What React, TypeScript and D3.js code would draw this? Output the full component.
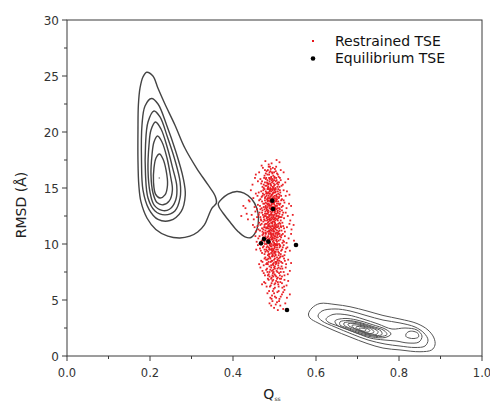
import React from "react";
import * as d3 from "d3";

const W = 490;
const H = 403;

const xTicks = [0, 0.2, 0.4, 0.6, 0.8, 1.0];
const xMinor = [0.1, 0.3, 0.5, 0.7, 0.9];
const yTicks = [0, 5, 10, 15, 20, 25, 30];
const yMinor = [2.5, 7.5, 12.5, 17.5, 22.5, 27.5];

const legendLabels = ["Restrained TSE", "Equilibrium TSE"];

// Equilibrium TSE (black points) [Q, RMSD]
const equilibrium: [number, number][] = [
  [0.4947, 13.87], [0.4964, 13.13], [0.4747, 10.45], [0.4675, 10.06],
  [0.4851, 10.21], [0.5518, 9.91], [0.5301, 4.11],
];

// Restrained TSE (red cloud) [Q, RMSD]
const restrained: [number, number][] = [
  [0.478,17.4],[0.493,17.2],[0.505,17.5],[0.486,17.1],[0.512,17.3],[0.469,17.0],
  [0.472,16.8],[0.481,16.5],[0.489,16.9],[0.495,16.3],[0.501,16.7],[0.508,16.2],[0.476,16.1],[0.484,16.6],[0.492,16.0],[0.499,16.4],[0.515,16.6],[0.463,16.4],[0.487,16.2],[0.504,16.9],[0.479,16.3],[0.496,16.8],[0.510,16.0],[0.455,16.2],[0.522,16.4],[0.490,16.5],
  [0.466,15.8],[0.474,15.3],[0.480,15.9],[0.485,15.1],[0.488,15.6],[0.492,15.2],[0.495,15.8],[0.498,15.4],[0.502,15.0],[0.505,15.7],[0.509,15.3],[0.513,15.9],[0.477,15.5],[0.483,15.7],[0.490,15.0],[0.494,15.5],[0.500,15.9],[0.486,15.4],[0.471,15.1],[0.517,15.2],[0.460,15.6],[0.526,15.5],[0.496,15.1],[0.481,15.2],[0.503,15.6],[0.489,15.8],[0.507,15.1],[0.475,15.9],[0.491,15.3],[0.499,15.7],[0.447,15.3],[0.533,15.8],[0.484,15.0],[0.511,15.5],[0.468,15.4],
  [0.462,14.6],[0.469,14.2],[0.473,14.8],[0.477,14.1],[0.480,14.5],[0.483,14.9],[0.486,14.3],[0.488,14.7],[0.491,14.0],[0.493,14.4],[0.495,14.8],[0.497,14.2],[0.499,14.6],[0.501,14.1],[0.503,14.9],[0.505,14.4],[0.508,14.7],[0.511,14.2],[0.514,14.6],[0.518,14.0],[0.522,14.8],[0.475,14.4],[0.482,14.0],[0.489,14.5],[0.494,14.9],[0.498,14.0],[0.504,14.3],[0.509,14.9],[0.485,14.6],[0.492,14.3],[0.500,14.8],[0.479,14.7],[0.466,14.0],[0.527,14.3],[0.455,14.5],[0.487,14.1],[0.496,14.5],[0.506,14.0],[0.472,14.5],[0.512,14.4],[0.490,14.9],[0.530,14.7],[0.449,14.1],[0.481,14.3],[0.502,14.6],
  [0.460,13.5],[0.466,13.1],[0.470,13.8],[0.474,13.3],[0.477,13.9],[0.480,13.2],[0.482,13.6],[0.485,13.0],[0.487,13.4],[0.489,13.8],[0.491,13.1],[0.493,13.5],[0.495,13.9],[0.497,13.3],[0.499,13.7],[0.501,13.0],[0.503,13.4],[0.505,13.8],[0.507,13.2],[0.510,13.6],[0.513,13.1],[0.516,13.9],[0.520,13.4],[0.524,13.7],[0.476,13.6],[0.481,13.0],[0.484,13.8],[0.488,13.2],[0.492,13.7],[0.496,13.0],[0.500,13.5],[0.504,13.9],[0.508,13.0],[0.512,13.5],[0.486,13.6],[0.494,13.3],[0.498,13.9],[0.471,13.0],[0.463,13.9],[0.529,13.2],[0.452,13.3],[0.535,13.6],[0.479,13.4],[0.490,13.9],[0.502,13.2],[0.483,13.3],[0.506,13.6],[0.440,13.8],[0.430,13.2],[0.518,13.0],
  [0.458,12.4],[0.464,12.8],[0.468,12.1],[0.472,12.6],[0.475,12.2],[0.478,12.9],[0.481,12.3],[0.483,12.7],[0.486,12.0],[0.488,12.5],[0.490,12.9],[0.492,12.2],[0.494,12.6],[0.496,12.0],[0.498,12.4],[0.500,12.8],[0.502,12.1],[0.504,12.5],[0.507,12.9],[0.509,12.3],[0.512,12.7],[0.515,12.1],[0.519,12.6],[0.523,12.3],[0.527,12.8],[0.473,12.0],[0.479,12.5],[0.484,12.9],[0.487,12.2],[0.491,12.6],[0.495,12.3],[0.499,12.0],[0.503,12.7],[0.506,12.2],[0.510,12.5],[0.485,12.4],[0.493,12.8],[0.497,12.5],[0.501,12.3],[0.477,12.7],[0.466,12.4],[0.532,12.5],[0.454,12.9],[0.538,12.1],[0.489,12.1],[0.482,12.1],[0.508,12.8],[0.445,12.6],[0.436,12.2],[0.514,12.4],
  [0.459,11.6],[0.465,11.2],[0.469,11.8],[0.473,11.3],[0.476,11.7],[0.479,11.0],[0.482,11.5],[0.484,11.9],[0.487,11.2],[0.489,11.6],[0.491,11.0],[0.493,11.4],[0.495,11.8],[0.497,11.1],[0.499,11.5],[0.501,11.9],[0.503,11.3],[0.505,11.7],[0.508,11.0],[0.511,11.4],[0.514,11.8],[0.517,11.2],[0.521,11.6],[0.525,11.1],[0.530,11.5],[0.474,11.0],[0.480,11.4],[0.485,11.7],[0.488,11.1],[0.492,11.9],[0.496,11.3],[0.500,11.7],[0.504,11.0],[0.507,11.5],[0.512,11.9],[0.486,11.4],[0.494,11.6],[0.498,11.2],[0.502,11.6],[0.478,11.8],[0.470,11.4],[0.536,11.8],[0.455,11.1],[0.541,11.3],[0.490,11.3],[0.483,11.1],[0.509,11.8],[0.448,11.7],[0.516,11.5],[0.463,11.9],
  [0.461,10.5],[0.467,10.1],[0.471,10.8],[0.475,10.3],[0.478,10.7],[0.481,10.0],[0.484,10.4],[0.486,10.9],[0.489,10.2],[0.491,10.6],[0.493,10.0],[0.495,10.4],[0.497,10.8],[0.499,10.1],[0.501,10.5],[0.503,10.9],[0.506,10.2],[0.508,10.6],[0.511,10.0],[0.514,10.4],[0.517,10.8],[0.521,10.3],[0.525,10.7],[0.529,10.1],[0.477,10.0],[0.483,10.6],[0.487,10.5],[0.492,10.8],[0.496,10.2],[0.500,10.7],[0.504,10.3],[0.509,10.9],[0.488,10.0],[0.494,10.5],[0.498,10.9],[0.505,10.6],[0.480,10.5],[0.473,10.9],[0.534,10.5],[0.457,10.2],[0.540,10.9],[0.513,10.7],[0.490,10.9],[0.502,10.0],[0.519,10.1],
  [0.465,9.6],[0.470,9.2],[0.474,9.8],[0.478,9.3],[0.481,9.7],[0.484,9.0],[0.487,9.5],[0.489,9.9],[0.492,9.2],[0.494,9.6],[0.496,9.0],[0.498,9.4],[0.500,9.8],[0.502,9.1],[0.504,9.5],[0.507,9.9],[0.509,9.3],[0.512,9.7],[0.515,9.1],[0.518,9.5],[0.522,9.9],[0.526,9.3],[0.531,9.7],[0.482,9.4],[0.486,9.1],[0.491,9.8],[0.495,9.3],[0.499,9.6],[0.503,9.0],[0.506,9.7],[0.510,9.0],[0.488,9.6],[0.497,9.9],[0.476,9.5],[0.537,9.4],[0.460,9.9],[0.514,9.8],[0.501,9.3],[0.493,9.5],[0.524,9.0],
  [0.468,8.5],[0.474,8.1],[0.478,8.8],[0.482,8.3],[0.485,8.7],[0.488,8.0],[0.491,8.4],[0.494,8.9],[0.496,8.2],[0.499,8.6],[0.501,8.0],[0.504,8.4],[0.506,8.8],[0.509,8.1],[0.512,8.5],[0.515,8.9],[0.519,8.3],[0.523,8.7],[0.528,8.2],[0.484,8.2],[0.490,8.7],[0.495,8.5],[0.500,8.9],[0.505,8.3],[0.510,8.7],[0.480,8.6],[0.533,8.6],[0.463,8.2],[0.517,8.0],[0.497,8.1],[0.487,8.9],[0.508,8.5],
  [0.471,7.6],[0.477,7.2],[0.482,7.8],[0.486,7.3],[0.490,7.7],[0.493,7.0],[0.496,7.4],[0.499,7.9],[0.502,7.2],[0.505,7.6],[0.508,7.0],[0.511,7.4],[0.514,7.8],[0.518,7.1],[0.522,7.5],[0.527,7.9],[0.488,7.1],[0.494,7.6],[0.500,7.3],[0.507,7.8],[0.513,7.2],[0.483,7.5],[0.532,7.3],[0.466,7.9],[0.497,7.7],
  [0.475,6.6],[0.481,6.2],[0.486,6.8],[0.491,6.3],[0.495,6.7],[0.498,6.0],[0.502,6.5],[0.506,6.9],[0.510,6.2],[0.514,6.6],[0.519,6.1],[0.524,6.8],[0.492,6.9],[0.500,6.4],[0.508,6.6],[0.529,6.3],[0.470,6.4],[0.516,6.9],
  [0.483,5.6],[0.490,5.2],[0.496,5.8],[0.501,5.3],[0.507,5.7],[0.512,5.1],[0.518,5.5],[0.524,5.9],[0.494,5.4],[0.530,5.2],
  [0.488,4.7],[0.499,4.3],[0.506,4.8],[0.514,4.5],[0.521,4.2],[0.495,4.9],[0.508,4.1],
  [0.483,16.2],[0.491,16.7],[0.497,16.1],[0.503,16.5],[0.486,16.9],[0.494,16.4],[0.477,16.6],[0.506,16.3],[0.500,16.0],[0.488,16.4],
  [0.470,15.6],[0.478,15.2],[0.482,15.5],[0.487,15.9],[0.490,15.4],[0.493,15.7],[0.497,15.0],[0.501,15.3],[0.504,15.9],[0.508,15.5],[0.512,15.1],[0.479,15.8],[0.485,15.3],[0.492,15.9],[0.496,15.6],[0.499,15.2],[0.506,15.4],[0.515,15.7],[0.474,15.0],[0.483,15.4],[0.520,15.3],[0.453,15.9],
  [0.468,14.7],[0.471,14.3],[0.476,14.9],[0.478,14.2],[0.481,14.6],[0.484,14.1],[0.487,14.5],[0.490,14.2],[0.492,14.7],[0.495,14.1],[0.497,14.6],[0.500,14.3],[0.503,14.7],[0.506,14.2],[0.509,14.5],[0.513,14.8],[0.516,14.3],[0.483,14.5],[0.489,14.8],[0.494,14.4],[0.499,14.9],[0.504,14.0],[0.486,14.9],[0.492,14.0],[0.510,14.1],[0.459,14.3],[0.536,14.4],[0.443,14.8],
  [0.465,13.4],[0.469,13.2],[0.473,13.6],[0.476,13.1],[0.479,13.7],[0.482,13.1],[0.484,13.5],[0.486,13.9],[0.488,13.5],[0.490,13.2],[0.492,13.9],[0.494,13.6],[0.496,13.2],[0.498,13.6],[0.500,13.1],[0.502,13.8],[0.504,13.1],[0.506,13.4],[0.509,13.8],[0.511,13.2],[0.514,13.6],[0.517,13.3],[0.522,13.9],[0.478,13.3],[0.483,13.9],[0.491,13.4],[0.497,13.8],[0.501,13.3],[0.458,13.1],[0.540,13.4],
  [0.462,12.6],[0.467,12.2],[0.470,12.8],[0.474,12.4],[0.477,12.1],[0.480,12.7],[0.482,12.4],[0.485,12.8],[0.487,12.6],[0.489,12.3],[0.491,12.1],[0.493,12.4],[0.495,12.9],[0.497,12.2],[0.499,12.6],[0.501,12.9],[0.503,12.3],[0.505,12.7],[0.508,12.1],[0.511,12.4],[0.513,12.9],[0.517,12.4],[0.521,12.8],[0.476,12.5],[0.484,12.2],[0.492,12.7],[0.500,12.2],[0.506,12.5],[0.450,12.2],[0.544,12.6],
  [0.461,11.3],[0.466,11.7],[0.471,11.1],[0.475,11.5],[0.478,11.2],[0.481,11.8],[0.483,11.4],[0.486,11.1],[0.488,11.8],[0.490,11.5],[0.492,11.2],[0.494,11.9],[0.496,11.6],[0.498,11.4],[0.500,11.1],[0.502,11.8],[0.504,11.5],[0.506,11.2],[0.509,11.6],[0.512,11.2],[0.515,11.6],[0.519,11.9],[0.523,11.4],[0.477,11.5],[0.485,11.6],[0.493,11.2],[0.501,11.4],[0.510,11.1],[0.452,11.5],[0.546,11.7],
  [0.464,10.7],[0.469,10.3],[0.473,10.6],[0.476,10.2],[0.479,10.9],[0.482,10.3],[0.485,10.7],[0.488,10.4],[0.490,10.1],[0.492,10.4],[0.494,10.9],[0.496,10.6],[0.498,10.3],[0.500,10.0],[0.502,10.7],[0.505,10.4],[0.507,10.8],[0.510,10.3],[0.512,10.9],[0.516,10.6],[0.520,10.9],[0.523,10.2],[0.486,10.2],[0.493,10.7],[0.499,10.5],[0.506,10.0],[0.454,10.7],[0.547,10.3],
  [0.467,9.4],[0.472,9.7],[0.476,9.1],[0.480,9.5],[0.483,9.8],[0.485,9.3],[0.488,9.1],[0.490,9.5],[0.493,9.8],[0.495,9.1],[0.497,9.5],[0.499,9.2],[0.501,9.7],[0.503,9.3],[0.505,9.9],[0.508,9.5],[0.511,9.2],[0.513,9.9],[0.516,9.4],[0.520,9.7],[0.528,9.6],[0.486,9.7],[0.494,9.4],[0.502,9.9],[0.456,9.5],
  [0.471,8.4],[0.476,8.7],[0.480,8.2],[0.483,8.6],[0.486,8.4],[0.489,8.8],[0.492,8.1],[0.495,8.9],[0.498,8.3],[0.501,8.7],[0.503,8.2],[0.507,8.6],[0.510,8.3],[0.513,8.8],[0.516,8.4],[0.520,8.9],[0.525,8.5],[0.493,8.5],[0.502,8.4],[0.540,8.3],
  [0.474,7.4],[0.480,7.7],[0.484,7.2],[0.488,7.5],[0.492,7.9],[0.495,7.2],[0.498,7.5],[0.501,7.8],[0.504,7.1],[0.507,7.5],[0.510,7.9],[0.515,7.5],[0.519,7.8],[0.524,7.2],[0.497,7.1],[0.537,7.6],
  [0.478,6.5],[0.484,6.9],[0.489,6.2],[0.493,6.5],[0.497,6.8],[0.501,6.1],[0.504,6.7],[0.509,6.4],[0.513,6.9],[0.518,6.5],[0.523,6.2],[0.533,6.7],
  [0.487,5.8],[0.493,5.1],[0.499,5.6],[0.504,5.2],[0.510,5.8],[0.515,5.3],[0.521,5.7],[0.537,5.5],
  [0.492,4.5],[0.503,4.6],[0.511,4.9],[0.526,4.7],
  [0.425,13.4],[0.433,12.7],[0.438,13.9],[0.420,12.5],
];

// Contour lines [Q, RMSD]
const leftOuter: [number, number][] = [
  [0.192,25.33],[0.207,25.0],[0.219,23.93],[0.236,22.5],[0.260,20.63],[0.284,18.57],[0.3125,16.76],[0.340,15.27],[0.357,14.29],[0.360,13.66],
  [0.349,13.19],[0.340,12.44],[0.331,11.7],[0.315,11.07],[0.296,10.7],[0.272,10.54],[0.243,10.7],[0.214,11.3],[0.193,12.3],[0.178,13.8],[0.173,15.3],
  [0.171,17.5],[0.171,20.18],[0.172,22.41],[0.176,23.93],[0.183,24.91],
];
const leftC2: [number, number][] = [
  [0.2036,22.99],[0.2193,22.5],[0.2400,20.63],[0.2625,18.21],[0.2800,15.89],[0.2850,14.38],[0.2750,12.9],[0.2482,12.1],[0.2193,12.2],[0.1976,13.1],[0.1831,14.82],[0.1795,17.5],[0.1807,20.63],[0.1880,22.32],
];
const leftC3: [number, number][] = [
  [0.2096,21.88],[0.2241,21.34],[0.2420,19.55],[0.2600,17.5],[0.2725,15.54],[0.2725,14.11],[0.2600,12.95],[0.2361,12.6],[0.2120,12.95],[0.1952,14.11],[0.1892,16.16],[0.1892,18.84],[0.1952,20.89],
];
const leftC4: [number, number][] = [
  [0.2133,20.89],[0.2265,20.27],[0.2420,18.57],[0.2545,16.79],[0.2645,15.18],[0.2620,13.93],[0.2470,13.1],[0.2289,13.0],[0.2096,13.5],[0.2000,14.64],[0.1952,16.61],[0.1976,18.84],[0.2024,20.18],
];
const leftC5: [number, number][] = [
  [0.2181,19.64],[0.2289,19.11],[0.2410,17.68],[0.2490,16.16],[0.2540,14.82],[0.2465,13.85],[0.2313,13.5],[0.2169,13.7],[0.2072,14.55],[0.2024,16.16],[0.2048,17.95],[0.2096,19.11],
];
const leftC6: [number, number][] = [
  [0.2229,18.04],[0.2313,17.59],[0.2386,16.61],[0.2422,15.27],[0.2361,14.38],[0.2241,14.11],[0.2133,14.46],[0.2084,15.54],[0.2096,16.79],[0.2145,17.68],
];
const leftPeak: [number, number] = [0.2224, 15.89];

const middleBlob: [number, number][] = [
  [0.3646,13.63],[0.3728,14.02],[0.3880,14.46],[0.4089,14.69],[0.4265,14.55],[0.4451,14.02],[0.4571,13.21],[0.4614,12.32],[0.4578,11.34],[0.4434,10.58],[0.4289,10.63],[0.4120,11.12],[0.3928,11.96],[0.3759,12.77],[0.3663,13.30],
];

const rightR1: [number, number][] = [
  [0.5819,3.75],[0.5904,4.29],[0.6096,4.69],[0.6458,4.60],[0.6819,4.40],[0.7229,4.02],[0.7614,3.62],[0.8024,3.30],[0.8434,2.90],[0.8699,2.32],[0.8843,1.61],[0.8867,0.98],[0.8788,0.54],[0.8506,0.38],[0.8024,0.54],[0.7614,0.71],[0.7229,1.12],[0.6819,1.70],[0.6410,2.32],[0.6048,2.95],[0.5855,3.39],
];
const rightR2: [number, number][] = [
  [0.6048,3.57],[0.6145,4.02],[0.6458,4.20],[0.6819,4.02],[0.7205,3.62],[0.7614,3.21],[0.8024,2.95],[0.8386,2.59],[0.8602,2.05],[0.8699,1.43],[0.8627,0.89],[0.8386,0.76],[0.8024,0.89],[0.7663,1.07],[0.7253,1.43],[0.6867,1.96],[0.6458,2.59],[0.6145,3.13],
];
const rightR3: [number, number][] = [
  [0.6241,3.30],[0.6410,3.71],[0.6771,3.66],[0.7133,3.30],[0.7494,2.86],[0.7831,2.41],[0.8145,2.50],[0.8434,2.32],[0.8554,1.79],[0.8482,1.25],[0.8217,1.16],[0.7928,1.34],[0.7639,1.43],[0.7301,1.61],[0.6916,2.14],[0.6530,2.68],[0.6289,3.04],
];
const rightSecond: [number, number][] = [
  [0.8169,1.96],[0.8241,2.19],[0.8361,2.19],[0.8458,2.01],[0.8470,1.70],[0.8361,1.56],[0.8241,1.61],[0.8169,1.74],
];
const rightM1: [number, number][] = [
  [0.6458,3.13],[0.6675,3.35],[0.6988,3.21],[0.7349,2.81],[0.7687,2.37],[0.7807,1.96],[0.7663,1.65],[0.7349,1.70],[0.7012,2.01],[0.6699,2.46],[0.6506,2.77],
];
const rightM2: [number, number][] = [
  [0.6578,3.04],[0.6771,3.17],[0.7060,2.99],[0.7373,2.63],[0.7639,2.28],[0.7711,1.92],[0.7566,1.74],[0.7301,1.83],[0.6988,2.14],[0.6723,2.54],[0.6578,2.77],
];
const rightM3: [number, number][] = [
  [0.6675,2.95],[0.6867,3.04],[0.7108,2.86],[0.7373,2.54],[0.7566,2.23],[0.7590,1.92],[0.7446,1.83],[0.7229,1.96],[0.6964,2.28],[0.6747,2.59],[0.6675,2.77],
];
const rightM4: [number, number][] = [
  [0.6771,2.86],[0.6940,2.90],[0.7157,2.72],[0.7373,2.46],[0.7494,2.19],[0.7470,1.96],[0.7325,1.96],[0.7133,2.14],[0.6916,2.46],[0.6795,2.68],
];
const rightM5: [number, number][] = [
  [0.6867,2.72],[0.7012,2.77],[0.7205,2.59],[0.7349,2.37],[0.7398,2.14],[0.7325,2.01],[0.7181,2.10],[0.6988,2.37],[0.6892,2.54],
];
const rightM6: [number, number][] = [
  [0.6964,2.59],[0.7084,2.63],[0.7229,2.46],[0.7301,2.28],[0.7253,2.14],[0.7133,2.19],[0.7012,2.37],
];
const rightM7: [number, number][] = [
  [0.7036,2.46],[0.7133,2.48],[0.7205,2.37],[0.7181,2.23],[0.7084,2.28],
];

const leftContours = [leftOuter, leftC2, leftC3, leftC4, leftC5, leftC6, middleBlob];
const rightContours = [rightR1, rightR2, rightR3, rightSecond, rightM1, rightM2, rightM3, rightM4, rightM5, rightM6, rightM7];

const FONT = "DejaVu Sans, Verdana, sans-serif";
const RED = "#e8161b";

export default function App() {
  const x = d3.scaleLinear().domain([0, 1]).range([67, 482]);
  const y = d3.scaleLinear().domain([0, 30]).range([356, 20]);
  const line = d3
    .line<[number, number]>()
    .x((d) => x(d[0]))
    .y((d) => y(d[1]))
    .curve(d3.curveCatmullRomClosed.alpha(0.5));
  const axisColor = "#3a3a3a";
  const x0 = x(0), x1 = x(1), y0 = y(0), y1 = y(30);

  return (
    <svg
      width={W}
      height={H}
      style={{ position: "absolute", left: 0, top: 0, background: "#fff" }}
      fontFamily={FONT}
    >
      <rect x={0} y={0} width={W} height={H} fill="#fff" />
      {leftContours.map((c, i) => (
        <path key={"l" + i} d={line(c) || ""} fill="none" stroke="#444" strokeWidth={1.4} />
      ))}
      {rightContours.map((c, i) => (
        <path key={"r" + i} d={line(c) || ""} fill="none" stroke="#555" strokeWidth={1} />
      ))}
      <circle cx={x(leftPeak[0])} cy={y(leftPeak[1])} r={0.8} fill="#777" />
      {restrained.map((d, i) => (
        <rect key={"p" + i} x={x(d[0]) - 0.9} y={y(d[1]) - 0.9} width={1.8} height={1.8} fill={RED} opacity={0.95} />
      ))}
      {equilibrium.map((d, i) => (
        <circle key={"e" + i} cx={x(d[0])} cy={y(d[1])} r={2.3} fill="#000" />
      ))}
      <rect x={x0} y={y1} width={x1 - x0} height={y0 - y1} fill="none" stroke={axisColor} strokeWidth={1} />
      {xTicks.map((t) => (
        <g key={"xt" + t}>
          <line x1={x(t)} x2={x(t)} y1={y0} y2={y0 + 5} stroke={axisColor} />
          <text x={x(t)} y={y0 + 21} textAnchor="middle" fontSize={11.5} fill="#333">
            {d3.format(".1f")(t)}
          </text>
        </g>
      ))}
      {xMinor.map((t) => (
        <line key={"xm" + t} x1={x(t)} x2={x(t)} y1={y0} y2={y0 + 3} stroke={axisColor} />
      ))}
      {yTicks.map((t) => (
        <g key={"yt" + t}>
          <line x1={x0 - 5} x2={x0} y1={y(t)} y2={y(t)} stroke={axisColor} />
          <text x={x0 - 8} y={y(t) + 4.5} textAnchor="end" fontSize={12} fill="#333">
            {t}
          </text>
        </g>
      ))}
      {yMinor.map((t) => (
        <line key={"ym" + t} x1={x0 - 3} x2={x0} y1={y(t)} y2={y(t)} stroke={axisColor} />
      ))}
      <text transform={`translate(26,${(y0 + y1) / 2 + 17}) rotate(-90)`} textAnchor="middle" fontSize={14} fill="#222">
        RMSD (Å)
      </text>
      <text x={272} y={399} textAnchor="middle" fontSize={14} fill="#222">
        Q<tspan fontSize={6} dy={2}>ss</tspan>
      </text>
      <rect x={312} y={40} width={2} height={2} fill={RED} />
      <text x={335} y={46} fontSize={14} fill="#111">{legendLabels[0]}</text>
      <circle cx={313} cy={58.5} r={2.3} fill="#000" />
      <text x={335} y={63} fontSize={14} fill="#111">{legendLabels[1]}</text>
    </svg>
  );
}
